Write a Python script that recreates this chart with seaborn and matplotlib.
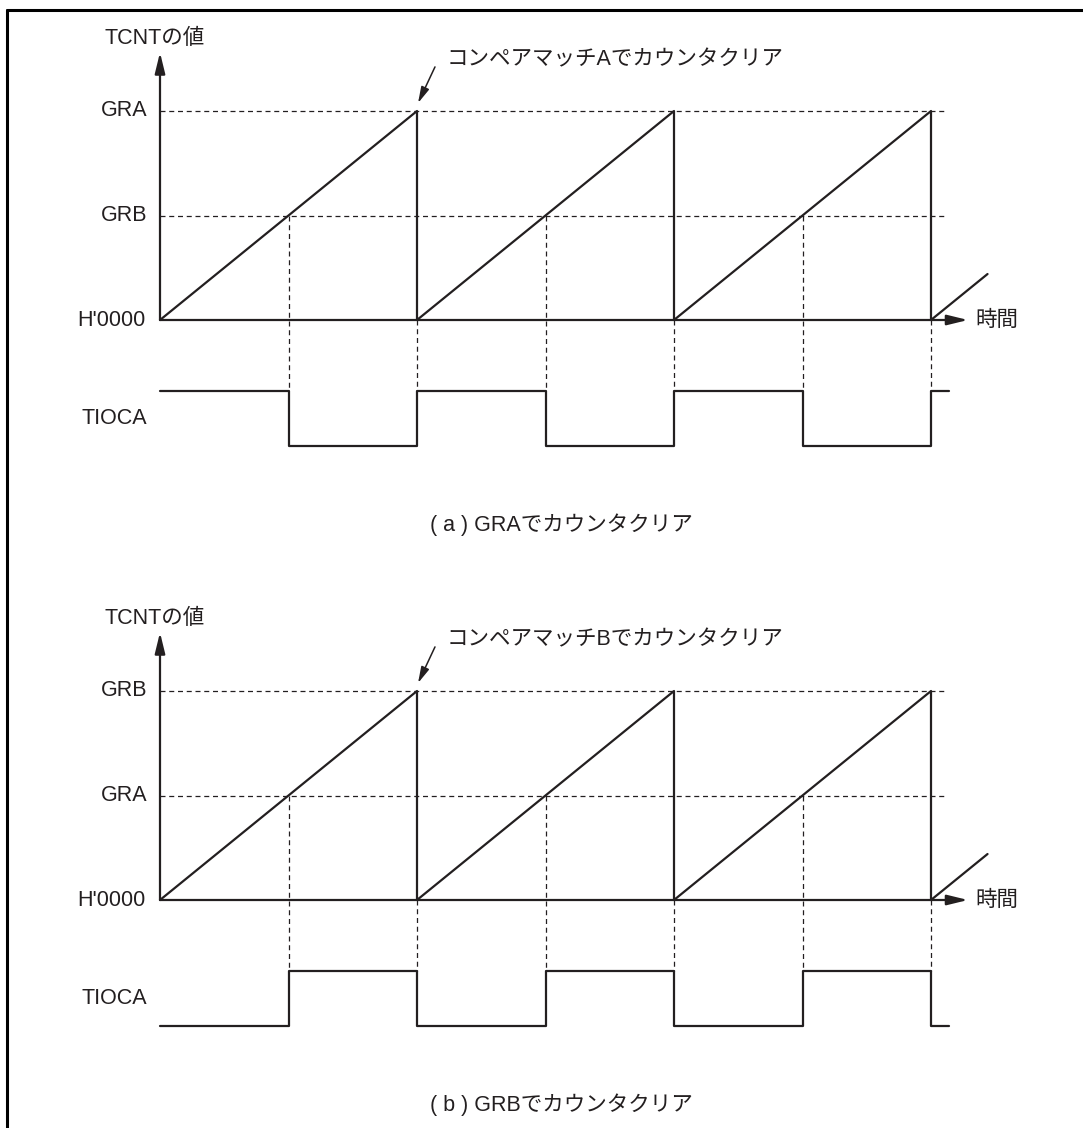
import matplotlib
matplotlib.use("Agg")
import matplotlib.pyplot as plt
from matplotlib.lines import Line2D
import seaborn as sns
import pandas as pd

sns.set_theme(style="white")
plt.rcParams["font.family"] = ["Liberation Sans", "Noto Sans CJK JP"]

# data (time in counter periods, count as fraction of the clearing register)
ramp_t = [0, 1, 1, 2, 2, 3, 3, 3.22]
ramp_v = [0, 1, 0, 1, 0, 1, 0, 0.22]
compare_t = [0.5, 1.5, 2.5]
clear_t = [1, 2, 3]
compare_level = 0.5
tioca_t = [0, 0.5, 1, 1.5, 2, 2.5, 3, 3.07]
tioca_a = [1, 0, 1, 0, 1, 0, 1, 1]
tioca_b = [0, 1, 0, 1, 0, 1, 0, 0]

panels = [
    {"levels": ["GRA", "GRB"], "tioca": tioca_a, "match": "コンペアマッチAでカウンタクリア",
     "caption": "( a ) GRAでカウンタクリア"},
    {"levels": ["GRB", "GRA"], "tioca": tioca_b, "match": "コンペアマッチBでカウンタクリア",
     "caption": "( b ) GRBでカウンタクリア"},
]

INK = "#231f20"
W, H = 1083, 1128
X0, PER, SCALE = 160, 257, 209
fig = plt.figure(figsize=(W / 100, H / 100), dpi=100)

# frame (top and left edges only, the rest is cropped)
fig.add_artist(Line2D([7 / W, 1], [1 - 10 / H, 1 - 10 / H], color="black", lw=2.2))
fig.add_artist(Line2D([7 / W, 7 / W], [0, 1 - 10 / H], color="black", lw=2.2))

boxes = [(0, 575, 320), (575, 1128, 900)]  # top px, bottom px, origin px
TIOCA_LOW, TIOCA_AMP = -0.603, 0.263
fs = 15.5

for p, (top, bot, org) in zip(panels, boxes):
    ax = fig.add_axes([0, 1 - bot / H, 1, (bot - top) / H])
    ax.set_xlim(-X0 / PER, (W - X0) / PER)
    ax.set_ylim((org - bot) / SCALE, (org - top) / SCALE)
    ax.axis("off")

    # dashed register levels
    for lv in [1, compare_level]:
        ax.plot([0, 3.05], [lv, lv], color=INK, lw=0.9, ls=(0, (4, 3)))
    # dashed verticals to TIOCA
    hi = TIOCA_LOW + TIOCA_AMP
    for t in compare_t:
        ax.plot([t, t], [compare_level, hi], color=INK, lw=0.9, ls=(0, (4, 3)))
    for t in clear_t:
        ax.plot([t, t], [0, hi], color=INK, lw=0.9, ls=(0, (4, 3)))

    # counter ramp
    sns.lineplot(x=ramp_t, y=ramp_v, sort=False, estimator=None, color=INK, lw=1.6, ax=ax)
    # TIOCA output
    tio = pd.DataFrame({"t": tioca_t, "v": [TIOCA_LOW + TIOCA_AMP * s for s in p["tioca"]]})
    sns.lineplot(data=tio, x="t", y="v", sort=False, estimator=None, color=INK, lw=1.6,
                 drawstyle="steps-post", ax=ax)

    # axes with arrows
    arr = dict(arrowstyle="-|>,head_width=0.22,head_length=0.9", color=INK, lw=1.6,
               shrinkA=0, shrinkB=0, mutation_scale=14)
    ax.annotate("", xy=(0, 1.28), xytext=(0, 0), arrowprops=arr)
    ax.annotate("", xy=(3.144, 0), xytext=(0, 0), arrowprops=arr)

    # labels
    ax.text(-0.05, 1, p["levels"][0], ha="right", va="center", fontsize=fs, color=INK)
    ax.text(-0.05, compare_level, p["levels"][1], ha="right", va="center", fontsize=fs, color=INK)
    ax.text(-0.055, 0, "H'0000", ha="right", va="center", fontsize=fs, color=INK)
    ax.text(-0.05, TIOCA_LOW + TIOCA_AMP / 2, "TIOCA", ha="right", va="center", fontsize=fs, color=INK)
    ax.text(-0.02, 1.349, "TCNTの値", ha="center", va="center", fontsize=fs, color=INK)
    ax.text(3.171, 0, "時間", ha="left", va="center", fontsize=fs, color=INK)
    ax.annotate("", xy=(1.004, 1.038), xytext=(1.070, 1.211),
                arrowprops=dict(arrowstyle="-|>,head_width=0.18,head_length=0.7", color=INK,
                                lw=1.1, shrinkA=0, shrinkB=0, mutation_scale=14))
    ax.text(1.117, 1.244, p["match"], ha="left", va="center", fontsize=fs, color=INK)
    ax.text(1.56, -0.98, p["caption"], ha="center", va="center", fontsize=fs, color=INK)

fig.savefig("out.png", dpi=100, facecolor="white")
